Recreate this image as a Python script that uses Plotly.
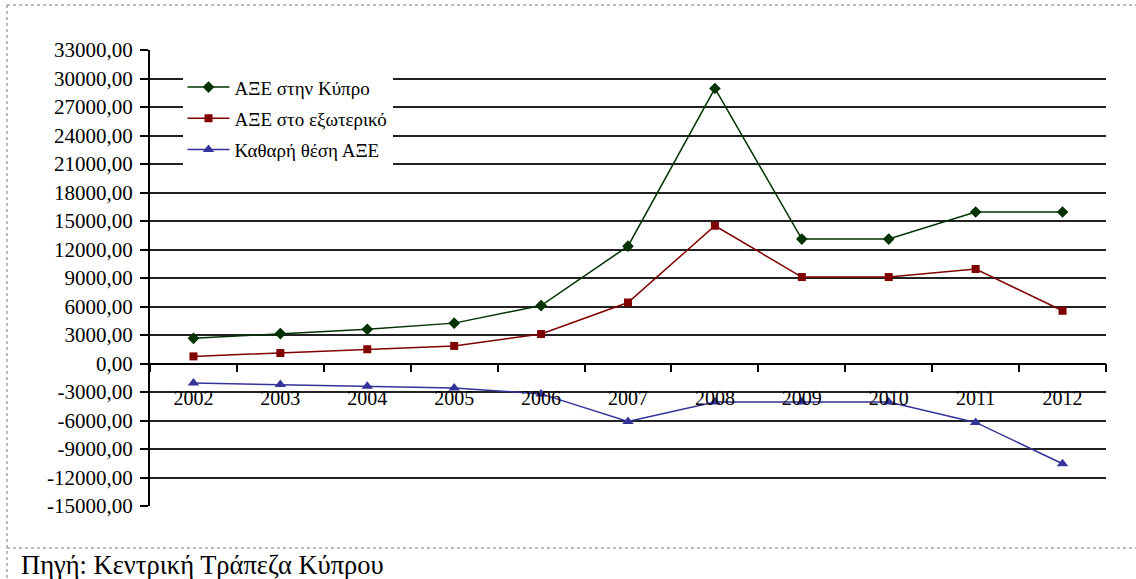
import plotly.graph_objects as go

years = ["2002", "2003", "2004", "2005", "2006", "2007", "2008", "2009", "2010", "2011", "2012"]
fdi_cyprus = [2650, 3150, 3600, 4250, 6100, 12350, 28950, 13100, 13100, 15950, 15950]
fdi_abroad = [750, 1100, 1500, 1850, 3100, 6420, 14500, 9100, 9100, 9950, 5550]
net_fdi = [-2050, -2220, -2400, -2570, -3200, -6100, -4050, -4050, -4050, -6200, -10550]

names = ["ΑΞΕ στην Κύπρο", "ΑΞΕ στο εξωτερικό", "Καθαρή θέση ΑΞΕ"]
colors = ["#003300", "#800000", "#333399"]
symbols = ["diamond", "square", "triangle-up"]
sizes = [9, 8, 10]

y_ticks = list(range(-15000, 33001, 3000))
y_ticktext = [f"{v:.2f}".replace(".", ",") for v in y_ticks]
source_text = "Πηγή: Κεντρική Τράπεζα Κύπρου"

FONT = '"Liberation Serif", "Times New Roman", Times, serif'

fig = go.Figure()
for i, (name, vals, c, s, sz) in enumerate(zip(names, [fdi_cyprus, fdi_abroad, net_fdi], colors, symbols, sizes)):
    fig.add_trace(go.Scatter(
        x=years, y=vals, name=name, mode="lines+markers", legendgroup=f"g{i}",
        line=dict(color=c, width=1.5),
        marker=dict(symbol=s, size=sz, color=c),
    ))

ymin, ymax = -15000, 33000
fig.update_layout(
    width=1136, height=579,
    margin=dict(l=150, r=30, t=50, b=73),
    paper_bgcolor="white", plot_bgcolor="white",
    font=dict(family=FONT, size=20, color="black"),
    showlegend=True,
    legend=dict(
        x=0.034, y=0.96, xanchor="left", yanchor="top",
        bgcolor="white", borderwidth=0,
        font=dict(family=FONT, size=19, color="black"),
        itemwidth=42, tracegroupgap=3.5, traceorder="grouped",
    ),
    xaxis=dict(
        type="category", range=[-0.5, 10.5],
        anchor="free", position=(0 - ymin) / (ymax - ymin),
        showline=True, linecolor="black", linewidth=1.5,
        ticks="outside", tickson="boundaries", ticklen=8, tickcolor="black", tickwidth=1.5,
        showgrid=False, ticklabelstandoff=17, automargin=False,
        tickfont=dict(family=FONT, size=20, color="black"),
    ),
    yaxis=dict(
        range=[ymin, ymax], tickvals=y_ticks, ticktext=y_ticktext,
        showline=True, linecolor="black", linewidth=2,
        ticks="outside", ticklen=8, tickcolor="black", tickwidth=1.5,
        showgrid=True, gridcolor="#222222", gridwidth=1.5, zeroline=False,
        ticklabelstandoff=3, automargin=False,
        tickfont=dict(family=FONT, size=21, color="black"),
    ),
)

# outer dotted frame and source separator (paper coords relative to plot area)
def px2x(px):
    return (px - 150) / 956

def py2y(py):
    return (506 - py) / 456

frame = dict(color="#777777", width=1, dash="dot")
fig.add_shape(type="line", xref="paper", yref="paper", x0=px2x(7), x1=px2x(1136), y0=py2y(5), y1=py2y(5), line=frame)
fig.add_shape(type="line", xref="paper", yref="paper", x0=px2x(7), x1=px2x(7), y0=py2y(5), y1=py2y(579), line=frame)
fig.add_shape(type="line", xref="paper", yref="paper", x0=px2x(7), x1=px2x(1136), y0=py2y(548), y1=py2y(548), line=frame)

fig.add_annotation(
    text=source_text, xref="paper", yref="paper",
    x=px2x(19), y=py2y(565), xanchor="left", yanchor="middle",
    showarrow=False, font=dict(family=FONT, size=26.5, color="black"),
)

fig.write_html("out.html", config={"displayModeBar": False},
               post_script="document.body.style.margin='0px';")
